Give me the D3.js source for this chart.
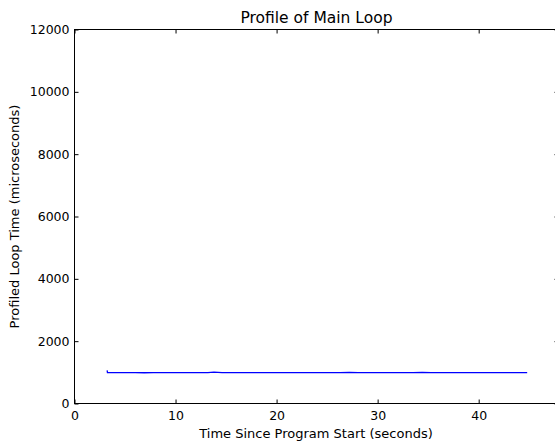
<!DOCTYPE html>
<html>
<head>
<meta charset="utf-8">
<script src="https://cdn.jsdelivr.net/npm/d3@7"></script>
<style>
  body { margin: 0; background: #fff; }
  svg { display: block; font-family: "DejaVu Sans", sans-serif; }
</style>
</head>
<body>
<div id="chart"></div>
<script>
// loop profile samples (seconds since start, microseconds)
var times = [3.23, 3.26, 4.1, 5.0, 6.0, 6.9, 7.8, 8.7, 9.6, 10.5, 11.4, 12.3, 13.2, 13.8, 14.6,
    15.5, 16.4, 17.3, 18.2, 19.1, 20.0, 20.9, 21.8, 22.7, 23.6, 24.5, 25.4, 26.3, 27.2, 28.1,
    29.0, 29.9, 30.8, 31.7, 32.6, 33.5, 34.4, 35.3, 36.2, 37.1, 38.0, 38.9, 39.8, 40.7, 41.6,
    42.5, 43.4, 44.3, 44.8];
var loopTimes = [1060, 990, 988, 992, 990, 987, 993, 990, 989, 991, 990, 988, 992, 1005, 990,
    989, 991, 990, 993, 988, 990, 991, 989, 992, 990, 988, 991, 990, 998, 989,
    990, 992, 988, 991, 990, 989, 1000, 990, 991, 988, 992, 990, 989, 991, 990,
    993, 988, 990, 990];
var xTicks = [0, 10, 20, 30, 40];
var yTicks = [0, 2000, 4000, 6000, 8000, 10000, 12000];

var width = 555, height = 442;
var plotLeft = 74.5, plotRight = 558.5, plotTop = 29.5, plotBottom = 403.5;

var svg = d3.select("#chart").append("svg")
    .attr("width", width)
    .attr("height", height);

var x = d3.scaleLinear().domain([0, 47.9]).range([plotLeft, plotRight]);
var y = d3.scaleLinear().domain([0, 12000]).range([plotBottom, plotTop]);

var data = times.map(function(t, i) { return [t, loopTimes[i]]; });

var line = d3.line()
    .x(function(d) { return x(d[0]); })
    .y(function(d) { return y(d[1]); });

svg.append("path")
    .datum(data)
    .attr("d", line)
    .style("fill", "none")
    .style("stroke", "#0000ff")
    .style("stroke-width", 1.3);

// axes, ticks pointing inward like matplotlib classic
var xAxis = svg.append("g")
    .attr("transform", "translate(0," + plotBottom + ")")
    .call(d3.axisBottom(x).tickValues(xTicks).tickFormat(d3.format("d"))
        .tickSizeInner(-4).tickSizeOuter(0).tickPadding(8));
var yAxis = svg.append("g")
    .attr("transform", "translate(" + plotLeft + ",0)")
    .call(d3.axisLeft(y).tickValues(yTicks).tickFormat(d3.format("d"))
        .tickSizeInner(-4).tickSizeOuter(0).tickPadding(5));
var xTop = svg.append("g")
    .attr("transform", "translate(0," + plotTop + ")")
    .call(d3.axisTop(x).tickValues(xTicks).tickFormat("")
        .tickSizeInner(-4).tickSizeOuter(0));
var yRight = svg.append("g")
    .attr("transform", "translate(" + plotRight + ",0)")
    .call(d3.axisRight(y).tickValues(yTicks).tickFormat("")
        .tickSizeInner(-4).tickSizeOuter(0));

[xAxis, yAxis, xTop, yRight].forEach(function(g) {
    g.select(".domain").remove();
    g.selectAll("line").style("stroke", "#000").style("stroke-width", 1);
    g.selectAll("text").style("font-size", "12.5px").style("fill", "#000")
        .style("font-family", "DejaVu Sans, sans-serif");
});

svg.append("rect")
    .attr("x", plotLeft)
    .attr("y", plotTop)
    .attr("width", plotRight - plotLeft)
    .attr("height", plotBottom - plotTop)
    .style("fill", "none")
    .style("stroke", "#000")
    .style("stroke-width", 1);

svg.append("text")
    .attr("x", (plotLeft + plotRight) / 2)
    .attr("y", 23)
    .attr("text-anchor", "middle")
    .style("font-size", "15.5px")
    .text("Profile of Main Loop");

svg.append("text")
    .attr("x", 316)
    .attr("y", 438)
    .attr("text-anchor", "middle")
    .style("font-size", "13px")
    .text("Time Since Program Start (seconds)");

svg.append("text")
    .attr("transform", "translate(19," + ((plotTop + plotBottom) / 2) + ") rotate(-90)")
    .attr("text-anchor", "middle")
    .style("font-size", "13px")
    .text("Profiled Loop Time (microseconds)");
</script>
</body>
</html>
